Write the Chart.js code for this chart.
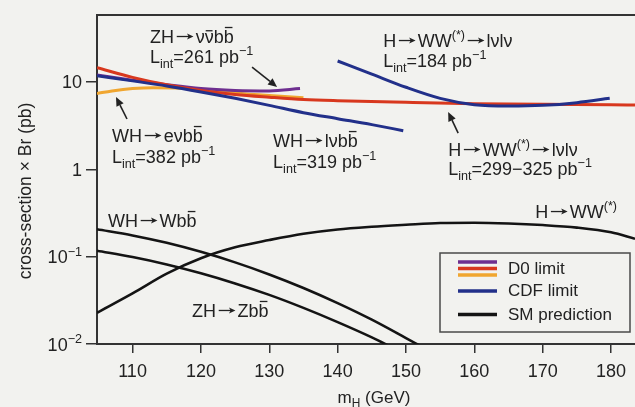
<!DOCTYPE html>
<html><head><meta charset="utf-8">
<script src="https://cdn.jsdelivr.net/npm/chart.js@4"></script>
<style>
html,body{margin:0;padding:0;background:#f2f2ef;}
canvas{display:block;}
</style></head><body>
<canvas id="c" width="635" height="407"></canvas>
<script>
// ---------- data ----------
const xTicks = [110, 120, 130, 140, 150, 160, 170, 180];
const yTicks = [0.01, 0.1, 1, 10];
const yTickBase = ['10', '10', '1', '10'];
const yTickExp  = ['−2', '−1', '', ''];

// D0 limits
const d0WwMass   = [104.8, 110, 115, 120, 125, 130, 135, 140, 150, 160, 170, 180, 183.5];
const d0WwLimit  = [14.6, 11.3, 9.3, 8.0, 7.2, 6.7, 6.3, 6.1, 5.85, 5.65, 5.55, 5.5, 5.45];
const d0ZhMass   = [104.8, 110, 115, 120, 125, 130, 134.5];
const d0ZhLimit  = [12.0, 10.5, 9.3, 8.4, 8.0, 7.9, 8.4];
const d0WhMass   = [104.8, 107, 110, 113, 117, 120, 125, 130, 135];
const d0WhLimit  = [7.4, 7.9, 8.4, 8.6, 8.5, 8.2, 7.5, 7.0, 6.6];
// CDF limits
const cdfWhMass  = [104.8, 110, 115, 120, 125, 130, 135, 140, 145, 149.6];
const cdfWhLimit = [11.8, 10.3, 9.0, 7.7, 6.5, 5.4, 4.45, 3.8, 3.25, 2.77];
const cdfWwMass  = [140, 145, 150, 155, 160, 165, 170, 175, 179.8];
const cdfWwLimit = [17.4, 12.3, 8.7, 6.5, 5.5, 5.3, 5.4, 5.8, 6.5];
// SM predictions
const smWhMass = [104.8, 110, 115, 120, 125, 130, 135, 140, 145, 150, 152];
const smWhXs   = [0.206, 0.175, 0.144, 0.1135, 0.086, 0.0626, 0.0438, 0.0294, 0.019, 0.0117, 0.0096];
const smZhMass = [104.8, 110, 115, 120, 125, 130, 135, 140, 145, 148];
const smZhXs   = [0.117, 0.099, 0.0815, 0.0646, 0.0494, 0.0365, 0.0259, 0.0178, 0.0119, 0.0091];
const smWwMass = [104.8, 110, 115, 120, 125, 130, 135, 140, 145, 150, 155, 160, 165, 170, 175, 180, 183.5];
const smWwXs   = [0.0228, 0.038, 0.064, 0.096, 0.128, 0.155, 0.183, 0.205, 0.22, 0.232, 0.243, 0.245, 0.24, 0.23, 0.215, 0.19, 0.16];

// ---------- styling ----------
const FONT = "'Liberation Sans', Arial, Helvetica, sans-serif";
const BG = '#f2f2ef';
const AXIS = '#333333';
const TEXT = '#222222';
const C_PURPLE = '#6e2f90', C_RED = '#d8381e', C_ORANGE = '#f0a630', C_BLUE = '#22308a', C_BLACK = '#141414';

const pts = (xs, ys) => xs.map((x, i) => ({x: x, y: ys[i]}));
function ds(xs, ys, color, w) {
  return {data: pts(xs, ys), borderColor: color, borderWidth: w, pointRadius: 0,
          fill: false, cubicInterpolationMode: 'monotone', clip: 0, borderCapStyle: 'butt'};
}

// annotation texts (position in data coordinates: GeV, pb) — markup: _{sub} ^{sup} ~x = overbar on x
const labels = [
  {m: 112.56, v: 27.97, t: 'ZH→ν~νb~b'},
  {m: 112.56, v: 16.5,  t: 'L_{int}=261 pb^{−1}'},
  {m: 107.0,  v: 2.055, t: 'WH→eνb~b'},
  {m: 107.0,  v: 1.181, t: 'L_{int}=382 pb^{−1}'},
  {m: 130.56, v: 1.80,  t: 'WH→lνb~b'},
  {m: 130.56, v: 1.035, t: 'L_{int}=319 pb^{−1}'},
  {m: 146.66, v: 25.16, t: 'H→WW^{(*)}→lνlν'},
  {m: 146.66, v: 14.85, t: 'L_{int}=184 pb^{−1}'},
  {m: 156.17, v: 1.42,  t: 'H→WW^{(*)}→lνlν'},
  {m: 156.17, v: 0.861, t: 'L_{int}=299−325 pb^{−1}'},
  {m: 168.9,  v: 0.277, t: 'H→WW^{(*)}'},
  {m: 106.41, v: 0.2185,t: 'WH→Wb~b'},
  {m: 118.7,  v: 0.0204,t: 'ZH→Zb~b'}
];
const arrows = [
  {m1: 127.48, v1: 14.85, m2: 131.14, v2: 8.76},
  {m1: 109.19, v1: 3.77,  m2: 107.58, v2: 6.73},
  {m1: 157.63, v1: 2.60,  m2: 156.17, v2: 4.53}
];
const legendItems = [
  {text: 'D0 limit', colors: [C_PURPLE, C_RED, C_ORANGE]},
  {text: 'CDF limit', colors: [C_BLUE]},
  {text: 'SM prediction', colors: [C_BLACK]}
];

// ---------- rich text ----------
function parseRich(str) {
  const parts = []; let i = 0;
  const special = (k) => ((str[k] === '_' || str[k] === '^') && str[k + 1] === '{') || str[k] === '~' || str[k] === '→';
  while (i < str.length) {
    const c = str[i];
    if ((c === '_' || c === '^') && str[i + 1] === '{') {
      const j = str.indexOf('}', i);
      parts.push({t: str.slice(i + 2, j), s: c === '_' ? 'sub' : 'sup'}); i = j + 1;
    } else if (c === '~') {
      parts.push({t: str[i + 1], s: 'bar'}); i += 2;
    } else if (c === '→') {
      parts.push({t: '', s: 'arrow'}); i += 1;
    } else {
      let j = i, t = '';
      while (j < str.length && !special(j)) { t += str[j]; j++; }
      parts.push({t: t, s: ''}); i = j;
    }
  }
  return parts;
}
function drawRich(ctx, x, y, str, size, align) {
  const parts = parseRich(str);
  const small = size * 0.7;
  let total = 0;
  parts.forEach(p => {
    if (p.s === 'arrow') { p.w = size * 1.2; }
    else {
      ctx.font = ((p.s === 'sub' || p.s === 'sup') ? small : size) + 'px ' + FONT;
      p.w = ctx.measureText(p.t).width;
    }
    total += p.w;
  });
  let cx = x;
  if (align === 'center') cx = x - total / 2;
  if (align === 'right') cx = x - total;
  ctx.textAlign = 'left';
  ctx.textBaseline = 'alphabetic';
  parts.forEach(p => {
    if (p.s === 'arrow') {
      const ay = y - size * 0.36, x1 = cx + size * 0.15, x2 = cx + p.w - size * 0.12;
      const hl = size * 0.36, hw = size * 0.17;
      ctx.save(); ctx.strokeStyle = ctx.fillStyle; ctx.lineWidth = 1.3;
      ctx.beginPath(); ctx.moveTo(x1, ay); ctx.lineTo(x2 - hl * 0.6, ay); ctx.stroke();
      ctx.beginPath(); ctx.moveTo(x2, ay); ctx.lineTo(x2 - hl, ay - hw); ctx.lineTo(x2 - hl * 0.75, ay);
      ctx.lineTo(x2 - hl, ay + hw); ctx.closePath(); ctx.fill();
      ctx.restore();
      cx += p.w; return;
    }
    let dy = 0, fs = size;
    if (p.s === 'sub') { fs = small; dy = size * 0.26; }
    if (p.s === 'sup') { fs = small; dy = -size * 0.42; }
    ctx.font = fs + 'px ' + FONT;
    ctx.fillText(p.t, cx, y + dy);
    if (p.s === 'bar') {
      const h = (p.t === 'b') ? size * 0.86 : size * 0.68;
      ctx.save(); ctx.lineWidth = 1.3; ctx.strokeStyle = ctx.fillStyle;
      ctx.beginPath(); ctx.moveTo(cx + p.w * 0.12, y - h); ctx.lineTo(cx + p.w * 0.88, y - h); ctx.stroke();
      ctx.restore();
    }
    cx += p.w;
  });
  return total;
}

// ---------- plugin for decorations ----------
const deco = {
  id: 'deco',
  beforeDraw(chart) {
    const ctx = chart.ctx;
    ctx.save(); ctx.fillStyle = BG; ctx.fillRect(0, 0, chart.width, chart.height); ctx.restore();
  },
  afterDraw(chart) {
    const ctx = chart.ctx, xs = chart.scales.x, ys = chart.scales.y, a = chart.chartArea;
    ctx.save();
    // top frame line
    ctx.strokeStyle = AXIS; ctx.lineWidth = 2;
    ctx.beginPath(); ctx.moveTo(a.left - 1, a.top); ctx.lineTo(a.right, a.top); ctx.stroke();
    ctx.fillStyle = TEXT;
    // x tick labels
    ctx.font = '18px ' + FONT; ctx.textAlign = 'center'; ctx.textBaseline = 'middle';
    xTicks.forEach(v => ctx.fillText(String(v), xs.getPixelForValue(v), a.bottom + 28));
    // y tick labels
    yTicks.forEach((v, i) => {
      const py = ys.getPixelForValue(v);
      const str = yTickExp[i] ? yTickBase[i] + '^{' + yTickExp[i] + '}' : yTickBase[i];
      drawRich(ctx, a.left - 15, py + 6.5, str, 18, 'right');
    });
    // axis titles
    drawRich(ctx, 374, 403, 'm_{H} (GeV)', 17, 'center');
    ctx.save(); ctx.translate(31, 191); ctx.rotate(-Math.PI / 2);
    drawRich(ctx, 0, 0, 'cross-section × Br (pb)', 17.5, 'center');
    ctx.restore();
    // annotations
    labels.forEach(l => drawRich(ctx, xs.getPixelForValue(l.m), ys.getPixelForValue(l.v), l.t, 18, 'left'));
    // arrows
    ctx.strokeStyle = TEXT; ctx.fillStyle = TEXT; ctx.lineWidth = 1.6;
    arrows.forEach(ar => {
      const x1 = xs.getPixelForValue(ar.m1), y1 = ys.getPixelForValue(ar.v1);
      const x2 = xs.getPixelForValue(ar.m2), y2 = ys.getPixelForValue(ar.v2);
      const ang = Math.atan2(y2 - y1, x2 - x1), L = 9, W = 4;
      const bx = x2 - L * Math.cos(ang), by = y2 - L * Math.sin(ang);
      ctx.beginPath(); ctx.moveTo(x1, y1); ctx.lineTo(bx, by); ctx.stroke();
      ctx.beginPath(); ctx.moveTo(x2, y2);
      ctx.lineTo(bx + W * Math.sin(ang), by - W * Math.cos(ang));
      ctx.lineTo(bx - W * Math.sin(ang), by + W * Math.cos(ang));
      ctx.closePath(); ctx.fill();
    });
    // legend
    const lx = 440, ly = 253, lw = 190, lh = 79;
    ctx.fillStyle = BG; ctx.fillRect(lx, ly, lw, lh);
    ctx.strokeStyle = '#4a4a4a'; ctx.lineWidth = 1.5; ctx.strokeRect(lx, ly, lw, lh);
    const rowY = [268.5, 291, 314.5];
    legendItems.forEach((it, i) => {
      const n = it.colors.length;
      it.colors.forEach((c, k) => {
        const yy = rowY[i] + (k - (n - 1) / 2) * 6.5;
        ctx.strokeStyle = c; ctx.lineWidth = 3.5;
        ctx.beginPath(); ctx.moveTo(458, yy); ctx.lineTo(497, yy); ctx.stroke();
      });
      ctx.fillStyle = TEXT;
      ctx.font = '17px ' + FONT; ctx.textAlign = 'left'; ctx.textBaseline = 'middle';
      ctx.fillText(it.text, 508, rowY[i] + 0.5);
    });
    ctx.restore();
  }
};

new Chart(document.getElementById('c'), {
  type: 'line',
  data: {
    datasets: [
      ds(cdfWwMass, cdfWwLimit, C_BLUE, 3),
      ds(cdfWhMass, cdfWhLimit, C_BLUE, 3),
      ds(d0WwMass, d0WwLimit, C_RED, 3),
      ds(d0ZhMass, d0ZhLimit, C_PURPLE, 3),
      ds(d0WhMass, d0WhLimit, C_ORANGE, 3),
      ds(smWhMass, smWhXs, C_BLACK, 2.6),
      ds(smZhMass, smZhXs, C_BLACK, 2.6),
      ds(smWwMass, smWwXs, C_BLACK, 2.6)
    ]
  },
  options: {
    responsive: false, animation: false, devicePixelRatio: 1,
    layout: {padding: {top: 15, left: 0, right: 0, bottom: 0}},
    plugins: {legend: {display: false}, tooltip: {enabled: false}},
    scales: {
      x: {
        type: 'linear', min: 104.8, max: 183.5,
        afterBuildTicks: s => { s.ticks = xTicks.map(v => ({value: v})); },
        afterFit: s => { s.height = 63; },
        grid: {drawOnChartArea: false, drawTicks: true, tickLength: 9, color: AXIS, lineWidth: 1.5},
        border: {display: true, color: AXIS, width: 2},
        ticks: {display: false}
      },
      y: {
        type: 'logarithmic', min: 0.01, max: 58.5,
        afterBuildTicks: s => { s.ticks = yTicks.map(v => ({value: v})); },
        afterFit: s => { s.width = 97; },
        grid: {drawOnChartArea: false, drawTicks: true, tickLength: 11, color: AXIS, lineWidth: 1.5},
        border: {display: true, color: AXIS, width: 2},
        ticks: {display: false}
      }
    }
  },
  plugins: [deco]
});
</script>
</body></html>
